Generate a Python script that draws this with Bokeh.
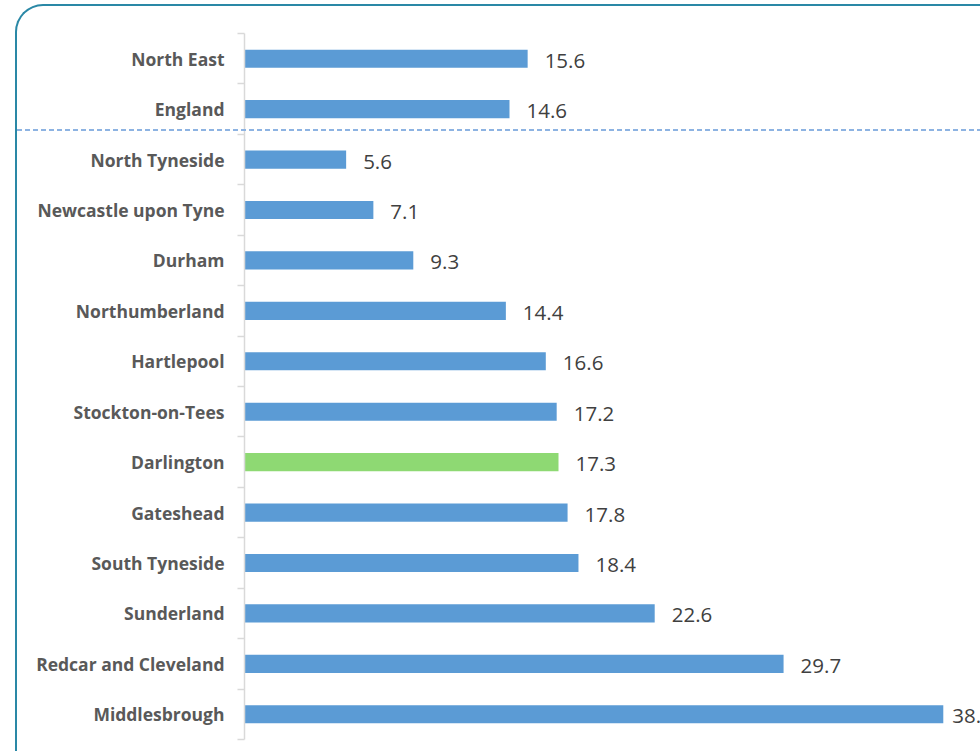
from bokeh.plotting import figure
from bokeh.models import Range1d, FixedTicker, ColumnDataSource, InlineStyleSheet
from bokeh.core.properties import value
from bokeh.embed import file_html
from bokeh.resources import INLINE

# ---- data ----
areas = ["North East", "England", "North Tyneside", "Newcastle upon Tyne", "Durham",
         "Northumberland", "Hartlepool", "Stockton-on-Tees", "Darlington", "Gateshead",
         "South Tyneside", "Sunderland", "Redcar and Cleveland", "Middlesbrough"]
rates = [15.6, 14.6, 5.6, 7.1, 9.3, 14.4, 16.6, 17.2, 17.3, 17.8, 18.4, 22.6, 29.7, 38.5]
highlight = "Darlington"

BLUE = "#5b9bd5"
GREEN = "#8ed973"
TEXT = "#595959"
FRAME = "#2a88a6"
DASH = "#8db3e2"

W, H = 980, 751
LEFT = 244
XMAX = 40.55
px_per_unit = (W - LEFT) / XMAX

idx = list(range(len(areas)))
colors = [GREEN if a == highlight else BLUE for a in areas]
labels = [f"{v:.1f}" for v in rates]
# labels sit 17px past the bar end, pulled closer when they would run off the panel
offsets = [17 if LEFT + v * px_per_unit + 17 + 30 < W else 9 for v in rates]

src = ColumnDataSource(dict(y=idx, right=rates, color=colors, label=labels, dx=offsets))

p = figure(width=W, height=H, output_backend="svg", toolbar_location=None,
           x_range=Range1d(0, XMAX), y_range=Range1d(len(areas) - 0.5, -0.5),
           min_border_left=LEFT, min_border_right=0, min_border_top=33, min_border_bottom=12)
p.outline_line_color = None
p.background_fill_color = "white"
p.border_fill_color = "white"
p.xgrid.visible = False
p.ygrid.visible = False
p.xaxis.visible = False

p.hbar(y="y", left=0, right="right", height=0.36, fill_color="color", line_color=None, source=src)
p.text(x="right", y="y", text="label", source=src, x_offset="dx", y_offset=2,
       text_baseline="middle", text_align="left",
       text_font=value("Open Sans"), text_font_size="20.5px", text_color="#404040")

ax = p.yaxis[0]
ax.ticker = FixedTicker(ticks=idx, minor_ticks=[i - 0.5 for i in range(len(areas) + 1)])
ax.major_label_overrides = {i: a for i, a in zip(idx, areas)}
ax.major_tick_out = 0
ax.major_tick_in = 0
ax.minor_tick_out = 7
ax.minor_tick_in = 0
ax.minor_tick_line_color = "#d9d9d9"
ax.minor_tick_line_width = 1.5
ax.axis_line_color = "#d9d9d9"
ax.axis_line_width = 1.5
ax.major_label_standoff = 13
ax.major_label_text_font = "Open Sans"
ax.major_label_text_font_style = "bold"
ax.major_label_text_font_size = "17.5px"
ax.major_label_text_color = TEXT

# rounded panel frame and dashed separator (page decoration)
css = f"""
:host {{ position: relative; }}
:host::before {{
  content: ""; position: absolute; left: 15px; top: 4px; right: 0; bottom: 0;
  border-left: 2.5px solid {FRAME}; border-top: 2.5px solid {FRAME};
  border-top-left-radius: 28px; pointer-events: none; z-index: 10;
}}
:host::after {{
  content: ""; position: absolute; left: 17px; top: 129px; right: 0; height: 1.5px;
  background: repeating-linear-gradient(to right, {DASH} 0 5px, transparent 5px 8px);
  pointer-events: none; z-index: 10;
}}
"""
p.stylesheets = [InlineStyleSheet(css=css)]

open("out.html", "w").write(file_html(p, INLINE))
